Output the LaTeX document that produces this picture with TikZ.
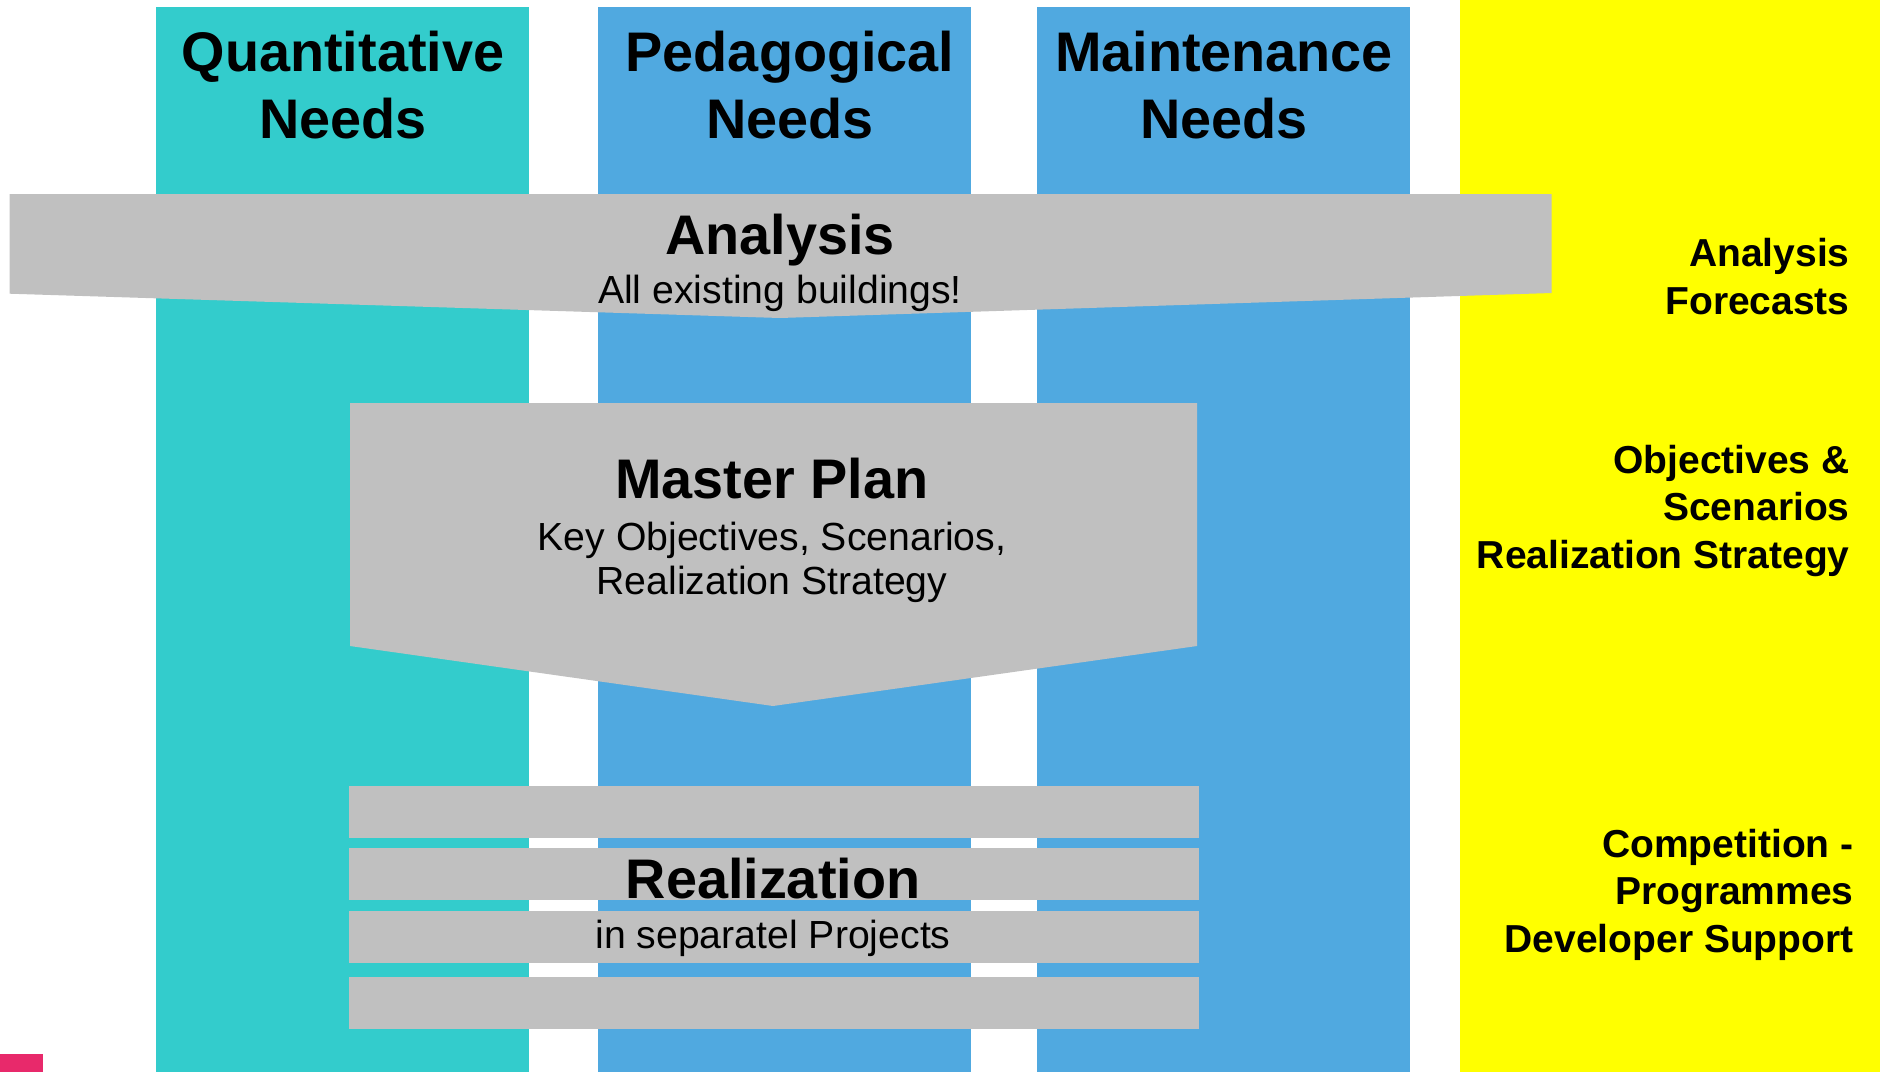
\documentclass[tikz,border=0pt]{standalone}
\usepackage{fontspec}
\setmainfont{Liberation Sans}
\definecolor{tealc}{RGB}{51,204,204}
\definecolor{bluec}{RGB}{80,169,224}
\definecolor{grayc}{RGB}{192,192,192}
\definecolor{yellowc}{RGB}{255,255,0}
\definecolor{pinkc}{RGB}{232,41,107}
\begin{document}
\begin{tikzpicture}[x=0.5pt,y=-0.5pt,
  head/.style={font=\fontsize{27.9}{33.3}\selectfont\bfseries, align=center, inner sep=0pt, anchor=base},
  sub/.style={font=\fontsize{19.6}{22}\selectfont, align=center, inner sep=0pt, anchor=base},
  side/.style={font=\fontsize{19.5}{23.7}\selectfont\bfseries, align=right, inner sep=0pt, anchor=base east},
  panel/.style={fill=grayc, draw=none}]
\useasboundingbox (0,0) rectangle (1880,1072);
% columns
\fill[tealc] (156,7) rectangle (529,1072);
\fill[bluec] (598,7) rectangle (971,1072);
\fill[bluec] (1037,7) rectangle (1410,1072);
\fill[yellowc] (1460,0) rectangle (1880,1072);
\fill[pinkc] (0,1054) rectangle (43,1072);
% analysis band
\fill[panel] (9.6,194) -- (1551.5,194) -- (1551.5,293) -- (780,318) -- (9.6,293.7) -- cycle;
% master plan
\fill[panel] (350,403) -- (1197,403) -- (1197,646) -- (773,706) -- (350,646) -- cycle;
% realization bars
\fill[panel] (349,786) rectangle (1199,838);
\fill[panel] (349,848) rectangle (1199,900);
\fill[panel] (349,911) rectangle (1199,963);
\fill[panel] (349,977) rectangle (1199,1029);
% headings (anchor base = baseline of last line)
\node[head] (qn) at (343,138) {Quantitative\\Needs};
\node[head] (pn) at (790,138) {Pedagogical\\Needs};
\node[head] (mn) at (1224,138) {Maintenance\\Needs};
% analysis
\node[head] (an) at (780,254) {Analysis};
\node[sub] (ans) at (780,303) {All existing buildings!};
% master plan
\node[head] (mp) at (772,498) {Master Plan};
\node[sub] (mps) at (772,594) {Key Objectives, Scenarios,\\Realization Strategy};
% realization
\node[head] (re) at (773,898) {Realization};
\node[sub] (res) at (773,948) {in separatel Projects};
% side texts
\node[side] (s1) at (1850,314) {Analysis\\Forecasts};
\node[side] (s2) at (1850,568) {Objectives \&\\Scenarios\\Realization Strategy};
\node[side] (s3) at (1854,952) {Competition -\\Programmes\\Developer Support};
\end{tikzpicture}
\end{document}
